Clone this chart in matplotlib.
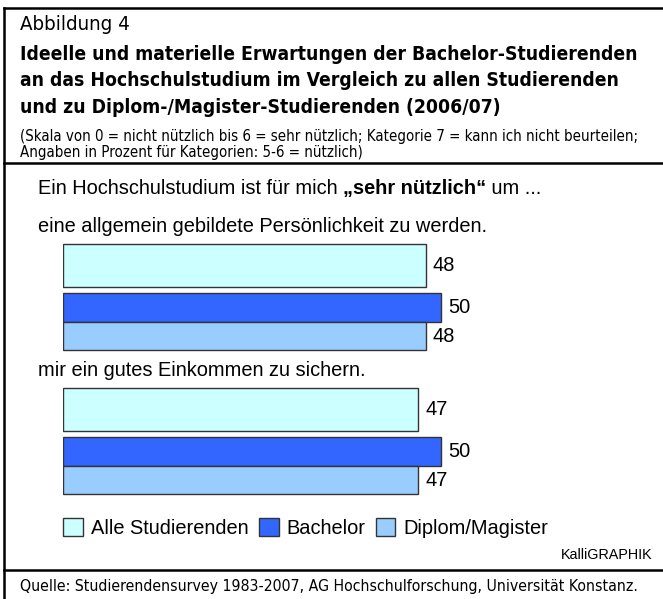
import matplotlib
matplotlib.use("Agg")
import matplotlib.pyplot as plt
from matplotlib.patches import Patch
from matplotlib import font_manager as fm

# Daten
gruppen = ["eine allgemein gebildete Persönlichkeit zu werden.",
           "mir ein gutes Einkommen zu sichern."]
serien = ["Alle Studierenden", "Bachelor", "Diplom/Magister"]
alle = [48, 47]
bachelor = [50, 50]
diplom = [48, 47]
farben = ["#CCFFFF", "#3366FF", "#99CCFF"]

kopf = "Abbildung 4"
titel = ["Ideelle und materielle Erwartungen der Bachelor-Studierenden",
         "an das Hochschulstudium im Vergleich zu allen Studierenden",
         "und zu Diplom-/Magister-Studierenden (2006/07)"]
untertitel = ["(Skala von 0 = nicht nützlich bis 6 = sehr nützlich; Kategorie 7 = kann ich nicht beurteilen;",
              "Angaben in Prozent für Kategorien: 5-6 = nützlich)"]
quelle = "Quelle: Studierendensurvey 1983-2007, AG Hochschulforschung, Universität Konstanz."

W, H = 663, 599
fig = plt.figure(figsize=(W / 100, H / 100), dpi=100)
renderer = fig.canvas.get_renderer()


def schmale_schrift(fett):
    # sucht eine installierte Condensed/Narrow-Schrift, sonst Roboto
    kandidaten = []
    for f in fm.fontManager.ttflist:
        name = f.fname.lower()
        if ("condensed" in name or "narrow" in name) and "oblique" not in name \
                and "italic" not in name and "light" not in name:
            ist_fett = "bold" in name
            if ist_fett == fett:
                kandidaten.append(f.fname)
    kandidaten.sort(key=lambda p: ("dejavu" not in p.lower(), len(p)))
    if kandidaten:
        return fm.FontProperties(fname=kandidaten[0])
    return fm.FontProperties(family=["Roboto", "DejaVu Sans"],
                             weight="bold" if fett else "normal")


KOPF = schmale_schrift(False)
KOPF_FETT = schmale_schrift(True)
TEXT_FONT = ["Liberation Sans", "DejaVu Sans"]


def px(x, y):
    return x / W, 1 - y / H


def text_px(x, y, s, width=None, fontsize=None, fp=None, **kw):
    # Text in Pixelkoordinaten, optional auf Zielbreite skaliert
    if fp is not None:
        fp = fp.copy()
        if fontsize is not None:
            fp.set_size(fontsize)
        t = fig.text(*px(x, y), s, va="center", fontproperties=fp, **kw)
    else:
        t = fig.text(*px(x, y), s, va="center", fontsize=fontsize, **kw)
    if width is not None:
        bb = t.get_window_extent(renderer)
        t.set_fontsize(t.get_fontsize() * width / bb.width)
    return t


# Rahmen
rahmen = fig.add_axes([0, 0, 1, 1])
rahmen.set_xlim(0, W)
rahmen.set_ylim(H, 0)
rahmen.axis("off")
rahmen.plot([4, 4], [8, H], color="black", lw=1.8)
rahmen.plot([4, W], [8, 8], color="black", lw=1.8)
rahmen.plot([4, W], [163, 163], color="black", lw=1.8)
rahmen.plot([4, W], [570, 570], color="black", lw=1.8)

# Kopfbereich
text_px(20, 24, kopf, width=110, fp=KOPF)
t0 = text_px(20, 54, titel[0], width=615, fp=KOPF_FETT)
for i, zeile in enumerate(titel[1:], start=1):
    text_px(20, 54 + 27 * i, zeile, fp=KOPF_FETT, fontsize=t0.get_fontsize())
u0 = text_px(20, 137, untertitel[0], width=620, fp=KOPF)
text_px(20, 152, untertitel[1], fp=KOPF, fontsize=u0.get_fontsize())

# Einleitungssatz mit fettem Teil
g0 = text_px(38, 227, gruppen[0], width=450, family=TEXT_FONT)
fs = g0.get_fontsize()
x = 38
for teil, gew in [("Ein Hochschulstudium ist für mich ", "normal"),
                  ("„sehr nützlich“", "bold"), (" um ...", "normal")]:
    t = text_px(x, 188, teil, family=TEXT_FONT, weight=gew, fontsize=fs)
    x += t.get_window_extent(renderer).width

# Balken
x0 = 63
skala = 7.56  # Pixel pro Prozentpunkt
ax = fig.add_axes([x0 / W, 0, 1 - x0 / W, 1])
ax.set_xlim(0, (W - x0) / skala)
ax.set_ylim(H, 0)
ax.axis("off")

gruppe_oben = [244, 388]
balken = [(0, 43), (49, 29), (78, 28)]  # (Versatz, Hoehe) je Serie
werte = [alle, bachelor, diplom]
for g, oben in enumerate(gruppe_oben):
    if g > 0:
        text_px(38, oben - 18, gruppen[g], family=TEXT_FONT, fontsize=fs)
    for s, (versatz, hoehe) in enumerate(balken):
        v = werte[s][g]
        yc = oben + versatz + hoehe / 2
        ax.barh(yc, v, height=hoehe, color=farben[s], edgecolor="#333333",
                linewidth=1.0)
        ax.annotate(str(v), (v, yc), xytext=(5, 0), textcoords="offset points",
                    va="center", ha="left", family=TEXT_FONT, fontsize=fs)

# Legende
handles = [Patch(facecolor=c, edgecolor="#333333", linewidth=1.0) for c in farben]
fig.legend(handles, serien, loc="center left", bbox_to_anchor=px(63, 528),
           ncol=3, frameon=False, prop={"family": TEXT_FONT, "size": fs},
           handlelength=1.0, handleheight=1.0, handletextpad=0.4,
           columnspacing=0.5, borderaxespad=0, borderpad=0)

text_px(653, 555, "KalliGRAPHIK", family=TEXT_FONT, fontsize=fs * 0.72, ha="right")

# Quelle
text_px(20, 586, quelle, width=616, fp=KOPF)

fig.savefig("out.png", dpi=100)
